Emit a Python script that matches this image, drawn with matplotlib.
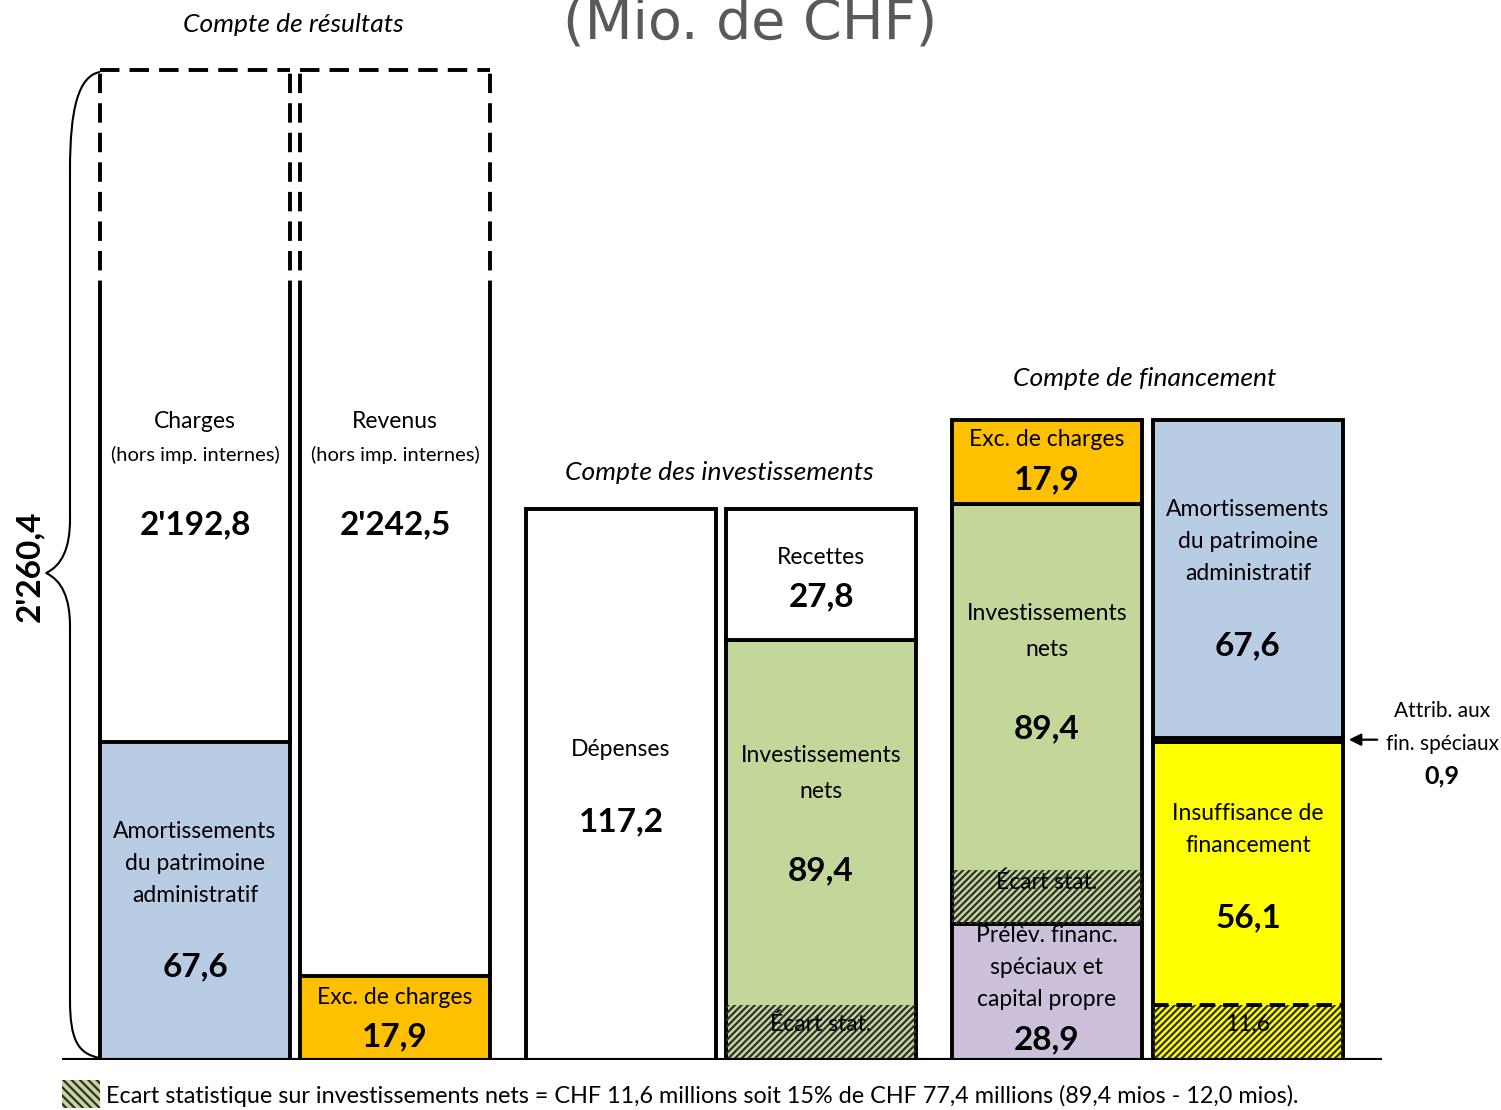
import numpy as np
import matplotlib
matplotlib.use('Agg')
import matplotlib.pyplot as plt
from matplotlib.transforms import Affine2D
from matplotlib.path import Path
from matplotlib.patches import PathPatch, Rectangle

plt.rcParams['font.family'] = ['Lato', 'DejaVu Sans']
plt.rcParams['hatch.linewidth'] = 1.6

# Données (Mio. de CHF)
charges = 2192.8
revenus = 2242.5
amort = 67.6
exc_charges = 17.9
total_cr = 2260.4
depenses = 117.2
recettes = 27.8
invest_nets = 89.4
ecart_stat = 11.6
prelev = 28.9
attrib = 0.9
insuffisance = 56.1

# couleurs
c_blue = '#b8cce4'
c_orange = '#ffc000'
c_green = '#c4d79b'
c_purple = '#ccc0da'
c_yellow = '#ffff00'

def fmt(v):
    s = f'{v:,.1f}'.replace(',', "'").replace('.', ',')
    return s

W, H = 1501, 1110
fig = plt.figure(figsize=(W / 100, H / 100), dpi=100)
scale = 4.7  # px par unité
ymax = 220
ax = fig.add_axes([0, 50 / H, 1, ymax * scale / H])
ax.set_xlim(0, W)
ax.set_ylim(0, ymax)
ax.axis('off')

# transformation en pixels (origine en haut à gauche)
pt = Affine2D().scale(1 / W, -1 / H).translate(0, 1) + fig.transFigure

def txt(x, y, s, size=16.5, **kw):
    fig.text(x, y, s, transform=pt, ha=kw.pop('ha', 'center'), va=kw.pop('va', 'center'),
             fontsize=size, **kw)

lefts = [100, 300, 526, 726, 952, 1153]
bw = 190
lw = 2.8
hatch_c = '#2e2e2e'
cap = (1060 - 70) / scale    # hauteur affichée des barres tronquées
brk = (1060 - 300) / scale   # début des traits pointillés
dash = (0, (5, 2.6))

# --- Compte de résultats (barres tronquées) ---
for i, (low, lowc) in enumerate([(amort, c_blue), (exc_charges, c_orange)]):
    x0 = lefts[i]
    ax.bar(x0, low, bw, align='edge', color=lowc, edgecolor='black', linewidth=lw, zorder=2)
    ax.bar(x0, cap - low, bw, bottom=low, align='edge', color='white', linewidth=0, zorder=1)
    ax.vlines([x0, x0 + bw], low, brk, color='black', linewidth=lw, zorder=3)
    ax.vlines([x0, x0 + bw], brk, cap, color='black', linewidth=lw, linestyles=dash, zorder=3)
    ax.hlines(cap, x0, x0 + bw, color='black', linewidth=lw, linestyles=dash, zorder=3)

# --- Compte des investissements ---
ax.bar(lefts[2], depenses, bw, align='edge', color='white', edgecolor='black', linewidth=lw, zorder=2)
ax.bar(lefts[3], [invest_nets, recettes], bw, bottom=[0, invest_nets], align='edge',
       color=[c_green, 'white'], edgecolor='black', linewidth=lw, zorder=2)
ax.bar(lefts[3], ecart_stat, bw, align='edge', fill=False, hatch='/////',
       edgecolor=hatch_c, linewidth=0, zorder=3)

# --- Compte de financement ---
b5 = [prelev, invest_nets, exc_charges]
ax.bar(lefts[4], b5, bw, bottom=np.cumsum([0] + b5[:-1]), align='edge',
       color=[c_purple, c_green, c_orange], edgecolor='black', linewidth=lw, zorder=2)
ax.bar(lefts[4], ecart_stat, bw, bottom=prelev, align='edge', fill=False, hatch='/////',
       edgecolor=hatch_c, linewidth=0, zorder=3)

b6 = [ecart_stat + insuffisance, attrib, amort]
ax.bar(lefts[5], b6, bw, bottom=np.cumsum([0] + b6[:-1]), align='edge',
       color=[c_yellow, c_purple, c_blue], edgecolor='black', linewidth=lw, zorder=2)
ax.bar(lefts[5], ecart_stat, bw, align='edge', fill=False, hatch='/////',
       edgecolor=hatch_c, linewidth=0, zorder=3)
ax.hlines(ecart_stat, lefts[5], lefts[5] + bw, color='black', linewidth=lw,
          linestyles=(0, (4, 2)), zorder=4)

# ligne de base
ax.hlines(0, 62, 1382, color='black', linewidth=3, zorder=5)

# --- Titres ---
fig.text(750, 38, '(Mio. de CHF)', transform=pt, ha='center', va='baseline', fontsize=40,
         color='#595959', family='DejaVu Sans')
txt(293, 25, 'Compte de résultats', 19, style='italic')
txt(719, 473, 'Compte des investissements', 19, style='italic')
txt(1145, 378, 'Compte de financement', 19, style='italic')

# --- Textes des barres ---
big = 24
cx = [l + bw / 2 for l in lefts]
txt(cx[0], 422, 'Charges')
txt(cx[0], 455, '(hors imp. internes)', 14.5)
txt(cx[0], 525, fmt(charges), big, weight='bold')
txt(cx[0], 831, 'Amortissements')
txt(cx[0], 863, 'du patrimoine')
txt(cx[0], 895, 'administratif')
txt(cx[0], 967, fmt(amort), big, weight='bold')

txt(cx[1], 422, 'Revenus')
txt(cx[1], 455, '(hors imp. internes)', 14.5)
txt(cx[1], 525, fmt(revenus), big, weight='bold')
txt(cx[1], 997, 'Exc. de charges')
txt(cx[1], 1037, fmt(exc_charges), big, weight='bold')

txt(cx[2], 749, 'Dépenses')
txt(cx[2], 822, fmt(depenses), big, weight='bold')

txt(cx[3], 557, 'Recettes')
txt(cx[3], 597, fmt(recettes), big, weight='bold')
txt(cx[3], 756, 'Investissements')
txt(cx[3], 792, 'nets')
txt(cx[3], 871, fmt(invest_nets), big, weight='bold')
txt(cx[3], 1024, 'Écart stat.', zorder=6)

txt(cx[4], 440, 'Exc. de charges')
txt(cx[4], 480, fmt(exc_charges), big, weight='bold')
txt(cx[4], 614, 'Investissements')
txt(cx[4], 650, 'nets')
txt(cx[4], 729, fmt(invest_nets), big, weight='bold')
txt(cx[4], 882, 'Écart stat.')
txt(cx[4], 936, 'Prélèv. financ.')
txt(cx[4], 968, 'spéciaux et')
txt(cx[4], 1000, 'capital propre')
txt(cx[4], 1040, fmt(prelev), big, weight='bold')

txt(cx[5], 510, 'Amortissements')
txt(cx[5], 542, 'du patrimoine')
txt(cx[5], 574, 'administratif')
txt(cx[5], 646, fmt(amort), big, weight='bold')
txt(cx[5], 813, 'Insuffisance de')
txt(cx[5], 845, 'financement')
txt(cx[5], 918, fmt(insuffisance), big, weight='bold')
txt(cx[5], 1024, fmt(ecart_stat))

# Attribution aux financements spéciaux
txt(1442, 711, 'Attrib. aux', 15)
txt(1442, 744, 'fin. spéciaux', 15)
txt(1442, 776, fmt(attrib), 18, weight='bold')
y_attr = ecart_stat + insuffisance + attrib / 2
ax.annotate('', xy=(1346, y_attr), xytext=(1380, y_attr),
            arrowprops=dict(arrowstyle='-|>', color='black', lw=1.6, mutation_scale=18))

# Accolade
verts = [(100, 72), (78, 76), (70, 110), (70, 170),
         (70, 520), (70, 562), (46, 573),
         (70, 584), (70, 626), (70, 1000),
         (70, 1040), (78, 1054), (100, 1058)]
codes = [Path.MOVETO, Path.CURVE4, Path.CURVE4, Path.CURVE4,
         Path.LINETO, Path.CURVE3, Path.CURVE3,
         Path.CURVE3, Path.CURVE3, Path.LINETO,
         Path.CURVE4, Path.CURVE4, Path.CURVE4]
fig.add_artist(PathPatch(Path(verts, codes), transform=pt, fill=False, lw=1.5, color='black'))
txt(30, 566, fmt(total_cr), big, weight='bold', rotation=90)

# Légende en bas
fig.add_artist(Rectangle((62, 1080), 38, 28, transform=pt, facecolor=c_green, hatch='\\\\\\\\',
                         edgecolor=hatch_c, linewidth=0))
txt(106, 1096, 'Ecart statistique sur investissements nets = CHF 11,6 millions soit 15% de CHF 77,4 millions (89,4 mios - 12,0 mios).',
    16.8, ha='left')

fig.savefig('out.png', dpi=100)
